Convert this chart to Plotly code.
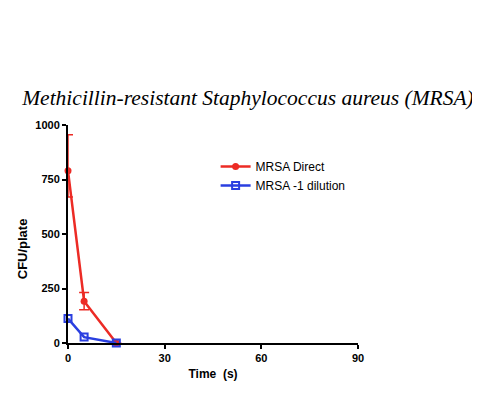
import plotly.graph_objects as go

time_s = [0, 5, 15]
direct_mean = [790, 192, 0]
direct_err_plus = [165, 40, 0]
direct_err_minus = [120, 40, 0]
dilution_mean = [112, 27, 0]

x_ticks = [0, 30, 60, 90]
y_ticks = [0, 250, 500, 750, 1000]

fig = go.Figure()
fig.add_trace(go.Scatter(
    x=time_s, y=direct_mean, name="MRSA Direct", mode="lines+markers",
    line=dict(color="#ec2b25", width=2.5),
    marker=dict(symbol="circle", size=7, color="#ec2b25"),
    error_y=dict(type="data", array=direct_err_plus, arrayminus=direct_err_minus,
                 color="#ec2b25", thickness=1.5, width=5),
    cliponaxis=False,
))
fig.add_trace(go.Scatter(
    x=time_s, y=dilution_mean, name="MRSA -1 dilution", mode="lines+markers",
    line=dict(color="#2a3fe0", width=2.5),
    marker=dict(symbol="square-open", size=7, color="#2a3fe0", line=dict(width=2)),
    cliponaxis=False,
))

axis_font = dict(family="Liberation Sans, Arial", size=11, color="black")
title_font = dict(family="Liberation Sans, Arial", size=12, color="black")
fig.update_layout(
    width=480, height=398,
    paper_bgcolor="white", plot_bgcolor="white",
    margin=dict(l=60, r=130, t=117, b=63),
    title=dict(text="Methicillin-resistant Staphylococcus aureus (MRSA)",
               font=dict(family="Liberation Serif, Times New Roman", size=21.5, color="black", style="italic"),
               x=0.5, xanchor="center", y=1 - 89 / 398, yanchor="middle"),
    showlegend=True,
    legend=dict(x=0.509, y=0.876, xanchor="left", yanchor="top",
                font=dict(family="Liberation Sans, Arial", size=12, color="black"),
                bgcolor="rgba(0,0,0,0)", tracegroupgap=0, itemwidth=30),
    xaxis=dict(range=[0, 90], tickvals=x_ticks, ticktext=[f"<b>{v}</b>" for v in x_ticks],
               showgrid=False, zeroline=False, showline=True, linecolor="black", linewidth=2,
               ticks="outside", ticklen=4, tickwidth=2, tickcolor="black", tickfont=axis_font,
               title=dict(text="<b>Time  (s)</b>", font=title_font, standoff=6)),
    yaxis=dict(range=[0, 1000], tickvals=y_ticks, ticktext=[f"<b>{v}</b>" for v in y_ticks],
               showgrid=False, zeroline=False, showline=True, linecolor="black", linewidth=2,
               ticks="outside", ticklen=4, tickwidth=2, tickcolor="black", tickfont=axis_font),
    annotations=[dict(text="<b>CFU/plate</b>", xref="paper", yref="paper",
                      x=-46 / 290, y=0.43, xanchor="center", yanchor="middle",
                      textangle=-90, showarrow=False,
                      font=dict(family="Liberation Sans, Arial", size=13, color="black"))],
)
fig.write_html("out.html")
